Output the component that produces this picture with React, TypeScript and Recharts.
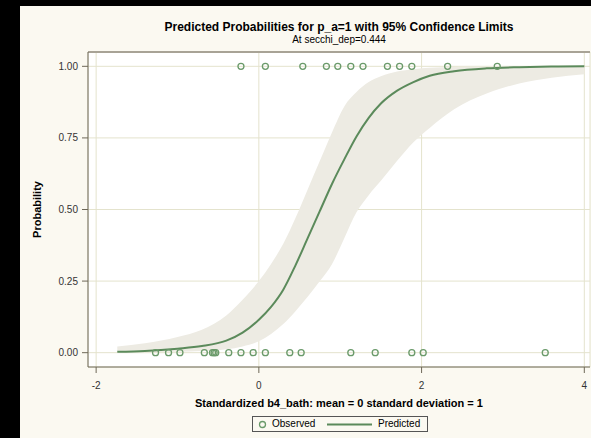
import {
  ComposedChart,
  Area,
  Line,
  Scatter,
  XAxis,
  YAxis,
  CartesianGrid,
  ReferenceLine,
  Label,
} from 'recharts'

// fitted curve
const curveX = [-1.74, -1.4, -1.0, -0.7, -0.4, -0.2, 0, 0.15, 0.3, 0.45, 0.6, 0.75, 0.9, 1.05, 1.2, 1.35, 1.5, 1.7, 1.9, 2.1, 2.4, 2.8, 3.2, 3.6, 4.0]
const predicted = [0.003, 0.006, 0.014, 0.023, 0.042, 0.07, 0.115, 0.16, 0.22, 0.305, 0.4, 0.495, 0.59, 0.675, 0.755, 0.82, 0.87, 0.915, 0.945, 0.967, 0.983, 0.993, 0.997, 0.999, 1.0]
const upperCL = [0.022, 0.033, 0.055, 0.08, 0.13, 0.185, 0.25, 0.31, 0.38, 0.47, 0.57, 0.67, 0.77, 0.86, 0.91, 0.945, 0.965, 0.982, 0.99, 0.995, 0.998, 0.999, 1.0, 1.0, 1.0]
const lowerCL = [0.0, 0.001, 0.003, 0.006, 0.012, 0.022, 0.04, 0.065, 0.1, 0.145, 0.195, 0.25, 0.31, 0.4, 0.49, 0.55, 0.6, 0.67, 0.735, 0.785, 0.85, 0.905, 0.94, 0.96, 0.972]

// observed responses
const obsOnes = [-0.22, 0.08, 0.54, 0.83, 0.97, 1.13, 1.28, 1.58, 1.73, 1.88, 2.32, 2.93]
const obsZeros = [-1.27, -1.11, -0.97, -0.67, -0.57, -0.55, -0.53, -0.37, -0.22, -0.07, 0.08, 0.38, 0.52, 1.13, 1.43, 1.88, 2.02, 3.52]

const xTicks = [-2, 0, 2, 4]
const yTicks = [0, 0.25, 0.5, 0.75, 1]

const colors = {
  panel: '#FBF9F1',
  grid: '#E4E3CD',
  band: '#EDEBE3',
  line: '#5B8A5B',
  marker: '#6A9A6A',
  axis: '#6E6858',
  frame: '#A8A396',
  text: '#333333',
}

const font = '"Liberation Sans", Arial, sans-serif'

const curveData = curveX.map((x, i) => ({
  x,
  p: predicted[i],
  band: [lowerCL[i], upperCL[i]],
}))

const obsData = [
  ...obsOnes.map((x) => ({ x, y: 1 })),
  ...obsZeros.map((x) => ({ x, y: 0 })),
]

function Ring(props: any) {
  const { cx, cy } = props
  if (cx == null || cy == null) return null
  return <circle cx={cx} cy={cy} r={3} fill="none" stroke={colors.marker} strokeWidth={1.3} />
}

export default function App() {
  return (
    <div style={{ position: 'absolute', left: 0, top: 0, width: 591, height: 438, background: '#000', overflow: 'hidden', fontFamily: font }}>
      <div style={{ position: 'absolute', left: 20, top: 6, width: 571, height: 432, background: colors.panel }}>
        <div style={{ position: 'absolute', left: 68, width: 502, top: 14, textAlign: 'center', fontSize: 12, fontWeight: 'bold', lineHeight: '14px', color: '#000' }}>
          Predicted Probabilities for p_a=1 with 95% Confidence Limits
        </div>
        <div style={{ position: 'absolute', left: 68, width: 502, top: 28, textAlign: 'center', fontSize: 10, lineHeight: '12px', color: '#000' }}>
          At secchi_dep=0.444
        </div>
        <ComposedChart
          width={571}
          height={432}
          data={curveData}
          margin={{ top: 46, right: 1, bottom: 41, left: 0 }}
          style={{ position: 'absolute', left: 0, top: 0 }}
        >
          <CartesianGrid stroke={colors.grid} fill="#ffffff" />
          <XAxis
            type="number"
            dataKey="x"
            domain={[-2.1, 4.07]}
            ticks={xTicks}
            allowDataOverflow
            stroke={colors.axis}
            tickSize={6}
            tickMargin={9}
            tick={{ fontSize: 10, fill: colors.text, fontFamily: font }}
            height={30}
          >
            <Label
              content={({ viewBox }: any) => (
                <text
                  x={viewBox.x + viewBox.width / 2}
                  y={viewBox.y + 40}
                  textAnchor="middle"
                  fontSize={11}
                  fontWeight="bold"
                  fontFamily={font}
                  fill="#000"
                >
                  Standardized b4_bath: mean = 0 standard deviation = 1
                </text>
              )}
            />
          </XAxis>
          <YAxis
            type="number"
            domain={[-0.05, 1.05]}
            ticks={yTicks}
            allowDataOverflow
            width={68}
            stroke={colors.axis}
            tickSize={6}
            tickMargin={4}
            tickFormatter={(v) => Number(v).toFixed(2)}
            tick={{ fontSize: 10, fill: colors.text, fontFamily: font }}
          >
            <Label
              content={({ viewBox }: any) => {
                const cx = viewBox.x + 21
                const cy = viewBox.y + viewBox.height / 2
                return (
                  <text
                    x={cx}
                    y={cy}
                    transform={`rotate(-90 ${cx} ${cy})`}
                    textAnchor="middle"
                    fontSize={11}
                    fontWeight="bold"
                    fontFamily={font}
                    fill="#000"
                  >
                    Probability
                  </text>
                )
              }}
            />
          </YAxis>
          <ReferenceLine y={1.05} stroke={colors.frame} strokeWidth={2} />
          <Area
            dataKey="band"
            type="monotone"
            fill={colors.band}
            fillOpacity={1}
            stroke="none"
            isAnimationActive={false}
          />
          <Line
            dataKey="p"
            type="monotone"
            stroke={colors.line}
            strokeWidth={2}
            dot={false}
            isAnimationActive={false}
          />
          <Scatter data={obsData} dataKey="y" shape={<Ring />} isAnimationActive={false} />
        </ComposedChart>
        <div
          style={{
            position: 'absolute',
            left: 232,
            top: 410,
            width: 174,
            height: 14,
            border: '1px solid #555',
            background: colors.panel,
            fontSize: 10,
            lineHeight: '14px',
            color: '#000',
          }}
        >
          <svg width={174} height={14} style={{ position: 'absolute', left: 0, top: 0 }}>
            <circle cx={9.5} cy={7.5} r={3} fill="none" stroke={colors.marker} strokeWidth={1.3} />
            <line x1={74} x2={119} y1={7.5} y2={7.5} stroke={colors.line} strokeWidth={2} />
          </svg>
          <span style={{ position: 'absolute', left: 19, top: 0 }}>Observed</span>
          <span style={{ position: 'absolute', left: 125, top: 0 }}>Predicted</span>
        </div>
      </div>
    </div>
  )
}
